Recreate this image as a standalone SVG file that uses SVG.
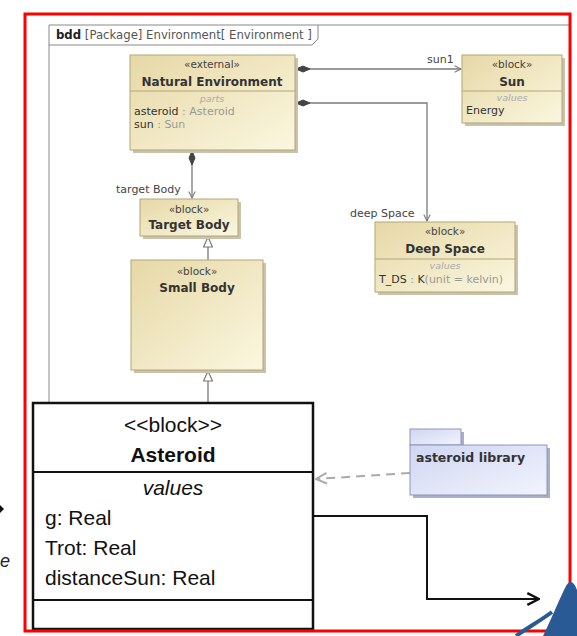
<svg xmlns="http://www.w3.org/2000/svg" width="577" height="636" viewBox="0 0 577 636">
<defs>
<linearGradient id="tan" x1="0" y1="0" x2="1" y2="1">
<stop offset="0" stop-color="#e6d8a6"/>
<stop offset="1" stop-color="#fbf7e0"/>
</linearGradient>
<linearGradient id="blu" x1="0" y1="0" x2="1" y2="1">
<stop offset="0" stop-color="#cfd6f2"/>
<stop offset="1" stop-color="#f2f4fd"/>
</linearGradient>
<marker id="open" viewBox="0 0 10 10" refX="9" refY="5" markerWidth="8" markerHeight="8" orient="auto" markerUnits="userSpaceOnUse">
<path d="M1,1 L9,5 L1,9" fill="none" stroke="#777" stroke-width="1.3"/>
</marker>
<marker id="openblk" viewBox="0 0 12 12" refX="11" refY="6" markerWidth="14" markerHeight="14" orient="auto" markerUnits="userSpaceOnUse">
<path d="M1,1 L11,6 L1,11" fill="none" stroke="#111" stroke-width="2"/>
</marker>
<marker id="opengray" viewBox="0 0 12 12" refX="11" refY="6" markerWidth="13" markerHeight="13" orient="auto" markerUnits="userSpaceOnUse">
<path d="M1,1 L11,6 L1,11" fill="none" stroke="#aaa" stroke-width="1.8"/>
</marker>
<marker id="dia" viewBox="0 0 16 8" refX="1" refY="4" markerWidth="16" markerHeight="8" orient="auto" markerUnits="userSpaceOnUse">
<path d="M1,4 L8,1 L15,4 L8,7 Z" fill="#444" stroke="#444"/>
</marker>
<marker id="tri" viewBox="0 0 12 10" refX="11" refY="5" markerWidth="12" markerHeight="10" orient="auto" markerUnits="userSpaceOnUse">
<path d="M11,5 L1,0.5 L1,9.5 Z" fill="#fff" stroke="#777" stroke-width="1.2"/>
</marker>
</defs>
<style>
.blk{fill:url(#tan);stroke:#b3a577;stroke-width:1}
.sh{fill:#c9c2ad}
.st{font-family:"DejaVu Sans",Verdana,sans-serif;font-size:10.5px;fill:#444;text-anchor:middle}
.nm{font-family:"DejaVu Sans",Verdana,sans-serif;font-size:12px;font-weight:bold;fill:#333;text-anchor:middle}
.cp{font-family:"DejaVu Sans",Verdana,sans-serif;font-size:9.5px;font-style:italic;fill:#aaa;text-anchor:middle}
.pr{font-family:"DejaVu Sans",Verdana,sans-serif;font-size:11px;fill:#333}
.gr{fill:#999}
.lb{font-family:"DejaVu Sans",Verdana,sans-serif;font-size:11px;fill:#444}
.con{fill:none;stroke:#7a7a7a;stroke-width:1.3}
.big{font-family:"Liberation Sans",Arial,sans-serif;font-size:21px;fill:#111}
</style>

<g id="frame">
<line x1="49" y1="25" x2="570" y2="25" stroke="#888" stroke-width="1"/>
<line x1="49" y1="25" x2="49" y2="630" stroke="#888" stroke-width="1"/>
<path d="M49,45 L312,45 L318,39 L318,25" fill="none" stroke="#888" stroke-width="1"/>
<text x="56" y="39" font-family="DejaVu Sans, Verdana, sans-serif" font-size="11.7" fill="#555"><tspan font-weight="bold" fill="#222">bdd</tspan> [Package] Environment[ Environment ]</text>
</g>

<g id="connectors">
<line class="con" x1="296" y1="69" x2="461" y2="69" marker-start="url(#dia)" marker-end="url(#open)"/>
<path class="con" d="M296,103 L427,103 L427,221" marker-start="url(#dia)" marker-end="url(#open)"/>
<line class="con" x1="192" y1="151" x2="192" y2="198" marker-start="url(#dia)" marker-end="url(#open)"/>
<line class="con" x1="208" y1="260" x2="208" y2="237" marker-end="url(#tri)"/>
<line class="con" x1="208" y1="403" x2="208" y2="371" marker-end="url(#tri)"/>
<path d="M410,473 L316,479" fill="none" stroke="#aaa" stroke-width="2" stroke-dasharray="9,6" marker-end="url(#opengray)"/>
<path d="M313,516 L427,516 L427,599 L539,599" fill="none" stroke="#111" stroke-width="2" marker-end="url(#openblk)"/>
<text class="lb" x="427" y="63">sun1</text>
<text class="lb" x="350" y="217">deep Space</text>
<text class="lb" x="116" y="193">target Body</text>
</g>

<g id="natural-environment">
<rect class="sh" x="133" y="58" width="165" height="95"/>
<rect class="blk" x="130" y="55" width="165" height="95"/>
<line x1="130" y1="91" x2="295" y2="91" stroke="#b3a577"/>
<text class="st" x="212" y="68">«external»</text>
<text class="nm" x="212" y="86">Natural Environment</text>
<text class="cp" x="212" y="102">parts</text>
<text class="pr" x="134" y="115">asteroid<tspan class="gr"> : Asteroid</tspan></text>
<text class="pr" x="134" y="128">sun<tspan class="gr"> : Sun</tspan></text>
</g>

<g id="sun">
<rect class="sh" x="465" y="58" width="100" height="68"/>
<rect class="blk" x="462" y="55" width="100" height="68"/>
<line x1="462" y1="91" x2="562" y2="91" stroke="#b3a577"/>
<text class="st" x="512" y="68">«block»</text>
<text class="nm" x="512" y="86">Sun</text>
<text class="cp" x="512" y="101">values</text>
<text class="pr" x="466" y="114">Energy</text>
</g>

<g id="target-body">
<rect class="sh" x="143" y="202" width="98" height="37"/>
<rect class="blk" x="140" y="199" width="98" height="37"/>
<text class="st" x="189" y="213">«block»</text>
<text class="nm" x="189" y="229">Target Body</text>
</g>

<g id="small-body">
<rect class="sh" x="134" y="263" width="132" height="110"/>
<rect class="blk" x="131" y="260" width="132" height="110"/>
<text class="st" x="197" y="275">«block»</text>
<text class="nm" x="197" y="292">Small Body</text>
</g>

<g id="deep-space">
<rect class="sh" x="378" y="225" width="140" height="70"/>
<rect class="blk" x="375" y="222" width="140" height="70"/>
<line x1="375" y1="259" x2="515" y2="259" stroke="#b3a577"/>
<text class="st" x="445" y="235">«block»</text>
<text class="nm" x="445" y="253">Deep Space</text>
<text class="cp" x="445" y="269">values</text>
<text class="pr" x="379" y="283">T_DS<tspan class="gr"> : </tspan>K<tspan class="gr">(unit = kelvin)</tspan></text>
</g>

<g id="asteroid-library">
<rect x="413" y="432" width="51" height="16" fill="#a9afc8"/>
<rect x="413" y="448" width="137" height="50" fill="#a9afc8"/>
<rect x="410" y="429" width="51" height="16" fill="url(#blu)" stroke="#8e96b5" stroke-width="1"/>
<rect x="410" y="445" width="137" height="50" fill="url(#blu)" stroke="#8e96b5" stroke-width="1"/>
<text x="416" y="462" font-family="DejaVu Sans, Verdana, sans-serif" font-size="12.5" font-weight="bold" fill="#333">asteroid library</text>
</g>

<g id="asteroid">
<rect x="33" y="403" width="280" height="226" fill="#fff" stroke="#111" stroke-width="2.5"/>
<line x1="33" y1="472" x2="313" y2="472" stroke="#111" stroke-width="2"/>
<line x1="33" y1="600" x2="313" y2="600" stroke="#111" stroke-width="2"/>
<text class="big" x="173" y="432" text-anchor="middle">&lt;&lt;block&gt;&gt;</text>
<text class="big" x="173" y="462" text-anchor="middle" font-weight="bold">Asteroid</text>
<text class="big" x="173" y="495" text-anchor="middle" font-style="italic">values</text>
<text class="big" x="45" y="525">g: Real</text>
<text class="big" x="45" y="555">Trot: Real</text>
<text class="big" x="45" y="585">distanceSun: Real</text>
</g>

<g id="border">
<rect x="25" y="14" width="545" height="617" fill="none" stroke="#ff0000" stroke-width="3"/>
</g>

<g id="edge-fragments">
<path d="M0,505 L4,509 L0,513 Z" fill="#111"/>
<text x="0" y="567" font-family="Liberation Sans, Arial, sans-serif" font-size="18" font-style="italic" fill="#222">e</text>
<path d="M577,590 C574,582 570,579 566,586 C559,600 550,622 543,636 L577,636 Z" fill="#2a5a96"/>
<path d="M552,612 C540,621 527,628 516,636" fill="none" stroke="#2a5a96" stroke-width="4"/>
</g>
</svg>
